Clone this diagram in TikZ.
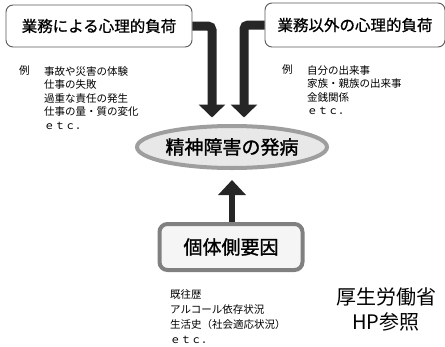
\documentclass[tikz,border=0pt]{standalone}
\usepackage{fontspec}
\setmainfont{Noto Sans CJK JP}
\newfontfamily\medfont{Noto Sans CJK JP}[FakeBold=0.8]
\newfontfamily\semifont{Noto Sans CJK JP}[FakeBold=1.4]
\usetikzlibrary{arrows.meta,shapes.geometric}
\begin{document}
\begin{tikzpicture}[x=1pt,y=-1pt,
  topbox/.style={draw=black!65,line width=0.9pt,rounded corners=7pt,fill=white,inner sep=0pt,font=\fontsize{15.5}{16}\medfont},
  listtxt/.style={anchor=north west,align=left,inner sep=0pt,font=\fontsize{10.5}{13.5}\selectfont},
  bigarrow/.style={line width=9pt,rounded corners=4pt,-{Triangle[width=26pt,length=13pt]},black!85},
  uparrow/.style={line width=6.5pt,-{Triangle[width=27pt,length=15pt]},black!85}]
\useasboundingbox (0,0) rectangle (445,346);
\node[topbox,minimum width=186pt,minimum height=42pt] (b1) at (99,26) {業務による心理的負荷};
\node[topbox,minimum width=180pt,minimum height=44pt] (b2) at (355,25) {業務以外の心理的負荷};
\node[ellipse,draw=black!38,line width=4pt,fill=black!9,minimum width=190pt,minimum height=42pt,inner sep=0pt,font=\fontsize{19}{20}\semifont] (ell) at (232,147) {精神障害の発病};
\node[draw=black!50,line width=4pt,rounded corners=8pt,fill=black!4,minimum width=143pt,minimum height=46pt,inner sep=0pt,font=\fontsize{19}{20}\semifont] (b3) at (231,247) {個体側要因};
\draw[bigarrow,shorten >=6.5pt] (b1.east) -| ([xshift=-20pt]ell.north);
\draw[bigarrow,shorten >=6.5pt] (b2.west) -| ([xshift=12pt]ell.north);
\draw[uparrow,shorten >=10pt] (b3.north -| ell.south) -- (ell.south);
\node[listtxt] (l1a) at (19,66) {例};
\node[listtxt] (l1) at (44,66) {事故や災害の体験\\仕事の失敗\\過重な責任の発生\\仕事の量・質の変化\\ｅｔｃ．};
\node[listtxt] (l2a) at (282,65) {例};
\node[listtxt] (l2) at (307,65) {自分の出来事\\家族・親族の出来事\\金銭関係\\ｅｔｃ．};
\node[listtxt,font=\fontsize{10.5}{15}\selectfont] (l3) at (170,289) {既往歴\\アルコール依存状況\\生活史（社会適応状況）\\ｅｔｃ．};
\node[align=center,inner sep=0pt,font=\fontsize{20}{25}\selectfont] (src) at (386,309) {厚生労働省\\HP参照};
\end{tikzpicture}
\end{document}
